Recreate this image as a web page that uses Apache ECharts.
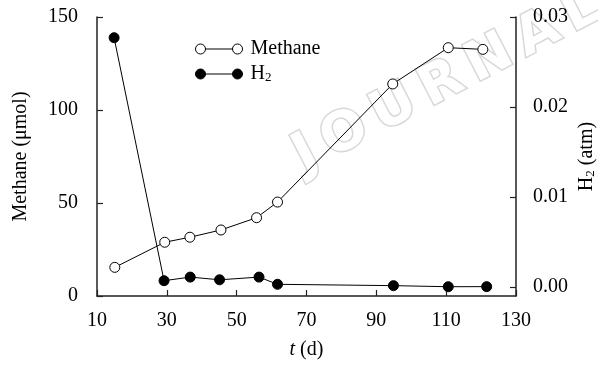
<!DOCTYPE html>
<html>
<head>
<meta charset="utf-8">
<script src="https://cdn.jsdelivr.net/npm/echarts@6/dist/echarts.min.js"></script>
<style>
  html, body { margin: 0; padding: 0; background: #fff; }
  #chart { width: 598px; height: 369px; }
</style>
</head>
<body>
<div id="chart"></div>
<script>
// values
var methaneDays = [15.1, 29.4, 36.6, 45.5, 55.7, 61.7, 94.7, 110.6, 120.5];
var methaneValues = [15.4, 28.9, 31.6, 35.5, 42.1, 50.5, 114, 133.5, 132.6];
var h2Days = [14.9, 29.2, 36.7, 45.1, 56.4, 61.7, 94.9, 110.6, 121.6];
var h2Values = [0.0277, 0.0007, 0.0011, 0.0008, 0.0011, 0.0003, 0.00015, 0.00003, 0.00004];
var h2Ticks = [0, 0.01, 0.02, 0.03];

var font = 'Liberation Serif';
var axisColor = '#222';
var fs = 20;

function pairs(xs, ys) {
  return xs.map(function (x, i) { return [x, ys[i]]; });
}

var chartDom = document.getElementById('chart');
var myChart = echarts.init(chartDom, null, { renderer: 'canvas' });

// legend icon: circle - line - circle
var legendIcon = 'path://M0,5A5,5 0 1,1 10,5A5,5 0 1,1 0,5Z M10,5L37,5 M37,5A5,5 0 1,1 47,5A5,5 0 1,1 37,5Z';

var subRich = {
  sub: { fontFamily: font, fontSize: 13, color: '#000', padding: [11, 0, 0, 0], verticalAlign: 'bottom', lineHeight: 13 }
};

var option = {
  animation: false,
  backgroundColor: '#fff',
  textStyle: { fontFamily: font, color: '#000' },
  graphic: [{
    type: 'text',
    x: 447, y: 82,
    rotation: 0.48,
    z: -10,
    style: {
      text: 'J\u2009O\u2009U\u2009R\u2009N\u2009A\u2009L',
      font: 'bold 54px "DejaVu Sans"',
      fill: '#fff',
      stroke: '#d8d8d8',
      lineWidth: 3,
      align: 'center',
      verticalAlign: 'middle'
    }
  }],
  grid: { left: 97, right: 82, top: 17, bottom: 73, outerBoundsMode: 'none' },
  legend: {
    orient: 'vertical',
    left: 190,
    top: 34,
    itemWidth: 47,
    itemHeight: 10,
    itemGap: 1,
    icon: legendIcon,
    itemStyle: { borderWidth: 1 },
    data: ['Methane', 'H2'],
    formatter: function (name) {
      return name === 'H2' ? 'H{sub|2}' : name;
    },
    textStyle: {
      fontFamily: font, fontSize: fs, color: '#000',
      padding: [0, 0, 0, 3],
      rich: subRich
    }
  },
  xAxis: {
    type: 'value',
    min: 10,
    max: 130,
    interval: 20,
    name: '{it|t} (d)',
    nameLocation: 'middle',
    nameGap: 44,
    nameMoveOverlap: false,
    nameTextStyle: {
      fontFamily: font, fontSize: fs, color: '#000',
      rich: { it: { fontFamily: font, fontSize: fs, fontStyle: 'italic', color: '#000' } }
    },
    axisLine: { lineStyle: { color: axisColor, width: 1.5 } },
    axisTick: { inside: true, length: 6, lineStyle: { color: axisColor, width: 1.2 } },
    axisLabel: { fontFamily: font, fontSize: fs, color: '#000', margin: 15 },
    splitLine: { show: false }
  },
  yAxis: [{
    type: 'value',
    position: 'left',
    min: 0,
    max: 150,
    interval: 50,
    name: 'Methane (μmol)',
    nameLocation: 'middle',
    nameRotate: 90,
    nameGap: 66,
    nameMoveOverlap: false,
    nameTextStyle: { fontFamily: font, fontSize: fs, color: '#000' },
    axisLine: { show: true, lineStyle: { color: axisColor, width: 1.5 } },
    axisTick: { show: true, inside: true, length: 6, lineStyle: { color: axisColor, width: 1.2 } },
    axisLabel: { fontFamily: font, fontSize: fs, color: '#000', margin: 19 },
    splitLine: { show: false }
  }, {
    type: 'value',
    position: 'right',
    min: -0.001,
    max: 0.03,
    name: 'H{sub|2} (atm)',
    nameLocation: 'middle',
    nameRotate: 90,
    nameGap: 61,
    nameMoveOverlap: false,
    nameTextStyle: { fontFamily: font, fontSize: fs, color: '#000', rich: subRich },
    axisLine: { show: true, lineStyle: { color: axisColor, width: 1.5 } },
    axisTick: { show: true, inside: true, length: 6, customValues: h2Ticks, lineStyle: { color: axisColor, width: 1.2 } },
    axisLabel: {
      fontFamily: font, fontSize: fs, color: '#000', margin: 17,
      customValues: h2Ticks,
      formatter: function (v) { return v.toFixed(2); }
    },
    splitLine: { show: false }
  }],
  series: [{
    name: 'Methane',
    type: 'line',
    yAxisIndex: 0,
    data: pairs(methaneDays, methaneValues),
    symbol: 'circle',
    symbolSize: 10,
    itemStyle: { color: '#fff', borderColor: '#000', borderWidth: 1 },
    lineStyle: { color: '#000', width: 1 },
    z: 3
  }, {
    name: 'H2',
    type: 'line',
    yAxisIndex: 1,
    data: pairs(h2Days, h2Values),
    symbol: 'circle',
    symbolSize: 10,
    itemStyle: { color: '#000', borderColor: '#000', borderWidth: 1 },
    lineStyle: { color: '#000', width: 1 },
    z: 2
  }]
};

option && myChart.setOption(option);
</script>
</body>
</html>
